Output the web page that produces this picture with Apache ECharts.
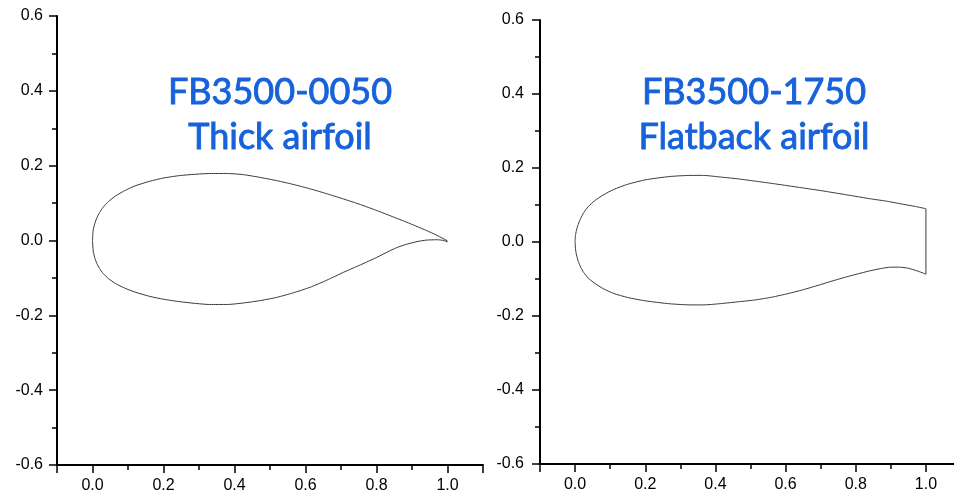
<!DOCTYPE html>
<html>
<head>
<meta charset="utf-8">
<script src="https://cdn.jsdelivr.net/npm/echarts@6/dist/echarts.min.js"></script>
<style>
html,body{margin:0;padding:0;background:#fff;}
#c{width:954px;height:502px;}
</style>
</head>
<body>
<div id="c"></div>
<script>
// Titles
const titleLeft = 'FB3500-0050\nThick airfoil';
const titleRight = 'FB3500-1750\nFlatback airfoil';

// Axis ranges / ticks
const xMin = -0.1, xMax = 1.1, xStep = 0.2;
const yMin = -0.6, yMax = 0.6, yStep = 0.2;

// FB3500-0050 (thick airfoil) surfaces, [x/c, y/c]
const upperThick = [
  [0, 0], [0.002, 0.028], [0.006, 0.044], [0.012, 0.060], [0.020, 0.075],
  [0.030, 0.089], [0.045, 0.104], [0.065, 0.119], [0.090, 0.133], [0.120, 0.146],
  [0.160, 0.158], [0.200, 0.167], [0.250, 0.174], [0.330, 0.179], [0.380, 0.179],
  [0.425, 0.176], [0.470, 0.169], [0.519, 0.160], [0.565, 0.150], [0.613, 0.138],
  [0.660, 0.125], [0.707, 0.111], [0.755, 0.096], [0.801, 0.080], [0.850, 0.062],
  [0.895, 0.045], [0.940, 0.027], [0.970, 0.014], [1.0, -0.001]
];
const lowerThick = [
  [0, 0], [0.002, -0.028], [0.006, -0.045], [0.012, -0.061], [0.020, -0.075],
  [0.030, -0.088], [0.045, -0.102], [0.065, -0.115], [0.090, -0.127], [0.120, -0.138],
  [0.160, -0.149], [0.200, -0.157], [0.250, -0.164], [0.330, -0.171], [0.380, -0.171],
  [0.425, -0.167], [0.470, -0.161], [0.519, -0.152], [0.565, -0.140], [0.613, -0.125],
  [0.660, -0.106], [0.707, -0.085], [0.755, -0.065], [0.801, -0.045], [0.830, -0.031],
  [0.857, -0.019], [0.885, -0.010], [0.914, -0.003], [0.940, 0.001], [0.970, 0.002],
  [0.990, 0.000], [1.0, -0.004]
];

// FB3500-1750 (flatback airfoil) surfaces, [x/c, y/c]
const upperFlat = [
  [0, 0], [0.001, 0.017], [0.004, 0.032], [0.009, 0.048], [0.016, 0.064],
  [0.025, 0.080], [0.037, 0.095], [0.055, 0.111], [0.080, 0.127], [0.110, 0.142],
  [0.150, 0.156], [0.200, 0.168], [0.270, 0.177], [0.330, 0.180], [0.366, 0.180],
  [0.410, 0.176], [0.461, 0.171], [0.510, 0.165], [0.556, 0.159], [0.600, 0.153],
  [0.650, 0.146], [0.700, 0.139], [0.745, 0.132], [0.790, 0.125], [0.840, 0.117],
  [0.890, 0.110], [0.935, 0.102], [0.970, 0.096], [1.0, 0.090]
];
const lowerFlat = [
  [0, 0], [0.001, -0.018], [0.004, -0.035], [0.009, -0.052], [0.016, -0.068],
  [0.025, -0.083], [0.037, -0.097], [0.055, -0.111], [0.080, -0.126], [0.110, -0.139],
  [0.150, -0.150], [0.200, -0.159], [0.270, -0.167], [0.330, -0.170], [0.366, -0.170],
  [0.410, -0.167], [0.461, -0.162], [0.510, -0.157], [0.556, -0.150], [0.600, -0.141],
  [0.650, -0.129], [0.700, -0.115], [0.745, -0.102], [0.790, -0.090], [0.840, -0.078],
  [0.870, -0.072], [0.900, -0.068], [0.925, -0.068], [0.950, -0.071], [0.975, -0.078],
  [1.0, -0.087]
];
const teFlat = [upperFlat[upperFlat.length - 1], lowerFlat[lowerFlat.length - 1]];

const chart = echarts.init(document.getElementById('c'), null, {renderer: 'canvas'});

const labelFont = {color: '#000', fontFamily: 'Liberation Sans, Arial, sans-serif', fontSize: 16};
const axisLineStyle = {color: '#000', width: 2};
const tickStyle = {color: '#000', width: 1.5};
const fmt = v => v.toFixed(1);

function xAxisDef(gi, margin) {
  return {
    type: 'value', gridIndex: gi, min: xMin, max: xMax,
    minInterval: xStep, maxInterval: xStep, splitNumber: 6,
    axisLine: {show: true, onZero: false, lineStyle: axisLineStyle},
    axisTick: {show: true, length: 8, lineStyle: tickStyle},
    minorTick: {show: true, splitNumber: 2, length: 5, lineStyle: tickStyle},
    splitLine: {show: false}, minorSplitLine: {show: false},
    axisLabel: Object.assign({margin: margin, formatter: fmt, showMinLabel: false, showMaxLabel: false}, labelFont)
  };
}
function yAxisDef(gi, margin) {
  return {
    type: 'value', gridIndex: gi, min: yMin, max: yMax, interval: yStep,
    axisLine: {show: true, onZero: false, lineStyle: axisLineStyle},
    axisTick: {show: true, length: 8, lineStyle: tickStyle},
    minorTick: {show: true, splitNumber: 2, length: 5, lineStyle: tickStyle},
    splitLine: {show: false}, minorSplitLine: {show: false},
    axisLabel: Object.assign({margin: margin, formatter: fmt, showMinLabel: true, showMaxLabel: true}, labelFont)
  };
}
const lineStyle = {color: '#3a3a3a', width: 1};
function curve(data, xi, yi, smooth) {
  return {
    type: 'line', xAxisIndex: xi, yAxisIndex: yi, data: data,
    showSymbol: false, symbol: 'none', smooth: smooth, lineStyle: lineStyle,
    silent: true, clip: false, animation: false
  };
}
const titleColor = '#1762da';
const titleStyle = {
  color: titleColor, fontFamily: 'Lato, Open Sans, sans-serif', fontSize: 36,
  fontWeight: 'normal', lineHeight: 45, textBorderColor: titleColor, textBorderWidth: 0.9
};

chart.setOption({
  animation: false,
  backgroundColor: '#fff',
  title: [
    {text: titleLeft, left: 280, top: 70, padding: 0, textAlign: 'center', textStyle: titleStyle},
    {text: titleRight, left: 754, top: 70, padding: 0, textAlign: 'center', textStyle: titleStyle}
  ],
  grid: [
    {left: 57, top: 16, width: 426, height: 449, outerBoundsMode: 'none'},
    {left: 540, top: 20, width: 421, height: 444, outerBoundsMode: 'none'}
  ],
  xAxis: [xAxisDef(0, 13), xAxisDef(1, 13)],
  yAxis: [yAxisDef(0, 14), yAxisDef(1, 16)],
  series: [
    curve(upperThick, 0, 0, 0.2),
    curve(lowerThick, 0, 0, 0.2),
    curve(upperFlat, 1, 1, 0.2),
    curve(lowerFlat, 1, 1, 0.2),
    curve(teFlat, 1, 1, false)
  ]
});
</script>
</body>
</html>
